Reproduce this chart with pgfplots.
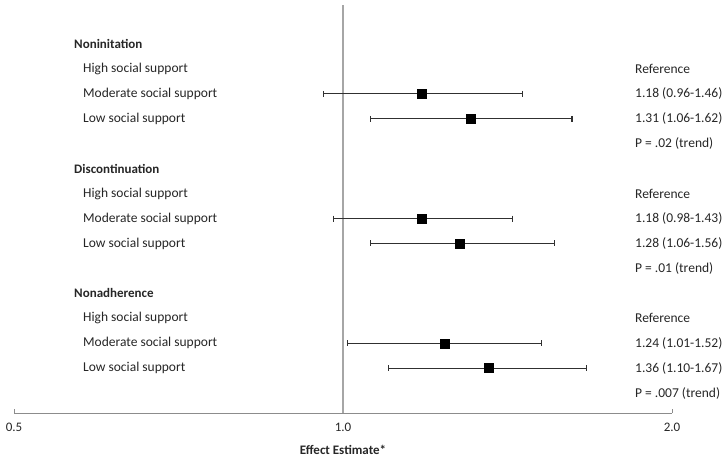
\documentclass[border=0pt]{standalone}
\usepackage{fontspec}
\setmainfont{Carlito}
\usepackage{pgfplots}
\usepackage{pgfplotstable}
\pgfplotsset{compat=1.18}

\definecolor{txt}{HTML}{262626}
\definecolor{axgray}{HTML}{8C8C8C}
\definecolor{refgray}{HTML}{A6A6A6}
\definecolor{cigray}{HTML}{303030}

% point estimates, row = minus row number from the top
\pgfplotstableread{
est row
1.18 -3
1.31 -4
1.18 -8
1.28 -9
1.24 -13
1.36 -14
}\estimates

% confidence intervals, one segment per row
\pgfplotstableread{
x y
0.96 -3
1.46 -3
nan nan
1.06 -4
1.62 -4
nan nan
0.98 -8
1.43 -8
nan nan
1.06 -9
1.56 -9
nan nan
1.01 -13
1.52 -13
nan nan
1.10 -14
1.67 -14
}\intervals

\begin{document}
\begin{tikzpicture}[font=\fontsize{13.5}{16}\selectfont, text=txt,
  lbl/.style={anchor=west, inner sep=0},
  hdr/.style={anchor=west, inner sep=0, font=\fontsize{13}{16}\selectfont\bfseries}]
  \begin{axis}[
    scale only axis, width=658pt, height=408pt,
    xmode=log, xmin=0.5, xmax=2, ymin=-15.80, ymax=0.564,
    axis x line*=bottom, axis y line=none,
    x axis line style={axgray, line width=0.9pt},
    xtick={0.5,1,2}, xticklabels={0.5,1.0,2.0},
    tick align=inside, major tick length=4pt,
    xtick style={axgray, line width=0.9pt},
    xticklabel style={text=txt, font=\fontsize{13}{16}\selectfont, yshift=-7pt},
    /pgf/number format/assume math mode=true,
    unbounded coords=jump, clip=false,
  ]
    \draw[refgray, line width=1.5pt] (axis cs:1,-15.80) -- (axis cs:1,0.564);

    \addplot[cigray, line width=1.1pt, mark=|, mark size=3pt,
      mark options={line width=1.1pt}] table[x=x, y=y] {\intervals};
    \addplot[only marks, mark=square*, mark size=4.5pt, black]
      table[x=est, y=row] {\estimates};

    % group headings
    \node[hdr] at (axis cs:0.5674,-1) {Noninitation};
    \node[hdr] at (axis cs:0.5674,-6) {Discontinuation};
    \node[hdr] at (axis cs:0.5674,-11) {Nonadherence};

    % row labels
    \node[lbl] at (axis cs:0.5782,-2) {High social support};
    \node[lbl] at (axis cs:0.5782,-3) {Moderate social support};
    \node[lbl] at (axis cs:0.5782,-4) {Low social support};
    \node[lbl] at (axis cs:0.5782,-7) {High social support};
    \node[lbl] at (axis cs:0.5782,-8) {Moderate social support};
    \node[lbl] at (axis cs:0.5782,-9) {Low social support};
    \node[lbl] at (axis cs:0.5782,-12) {High social support};
    \node[lbl] at (axis cs:0.5782,-13) {Moderate social support};
    \node[lbl] at (axis cs:0.5782,-14) {Low social support};

    % estimates text
    \node[lbl] at (axis cs:1.85,-2) {Reference};
    \node[lbl] at (axis cs:1.85,-3) {1.18 (0.96-1.46)};
    \node[lbl] at (axis cs:1.85,-4) {1.31 (1.06-1.62)};
    \node[lbl] at (axis cs:1.85,-5) {P = .02 (trend)};
    \node[lbl] at (axis cs:1.85,-7) {Reference};
    \node[lbl] at (axis cs:1.85,-8) {1.18 (0.98-1.43)};
    \node[lbl] at (axis cs:1.85,-9) {1.28 (1.06-1.56)};
    \node[lbl] at (axis cs:1.85,-10) {P = .01 (trend)};
    \node[lbl] at (axis cs:1.85,-12) {Reference};
    \node[lbl] at (axis cs:1.85,-13) {1.24 (1.01-1.52)};
    \node[lbl] at (axis cs:1.85,-14) {1.36 (1.10-1.67)};
    \node[lbl] at (axis cs:1.85,-15) {P = .007 (trend)};

    % axis title
    \node[font=\fontsize{13}{16}\selectfont\bfseries, inner sep=0]
      at (rel axis cs:0.5,-0.0907) {Effect Estimate*};

    \coordinate (bbA) at (rel axis cs:-0.02128,-0.1446);
    \coordinate (bbB) at (rel axis cs:1.08511,1.0123);
  \end{axis}
  \pgfresetboundingbox
  \path (bbA) rectangle (bbB);
\end{tikzpicture}
\end{document}
